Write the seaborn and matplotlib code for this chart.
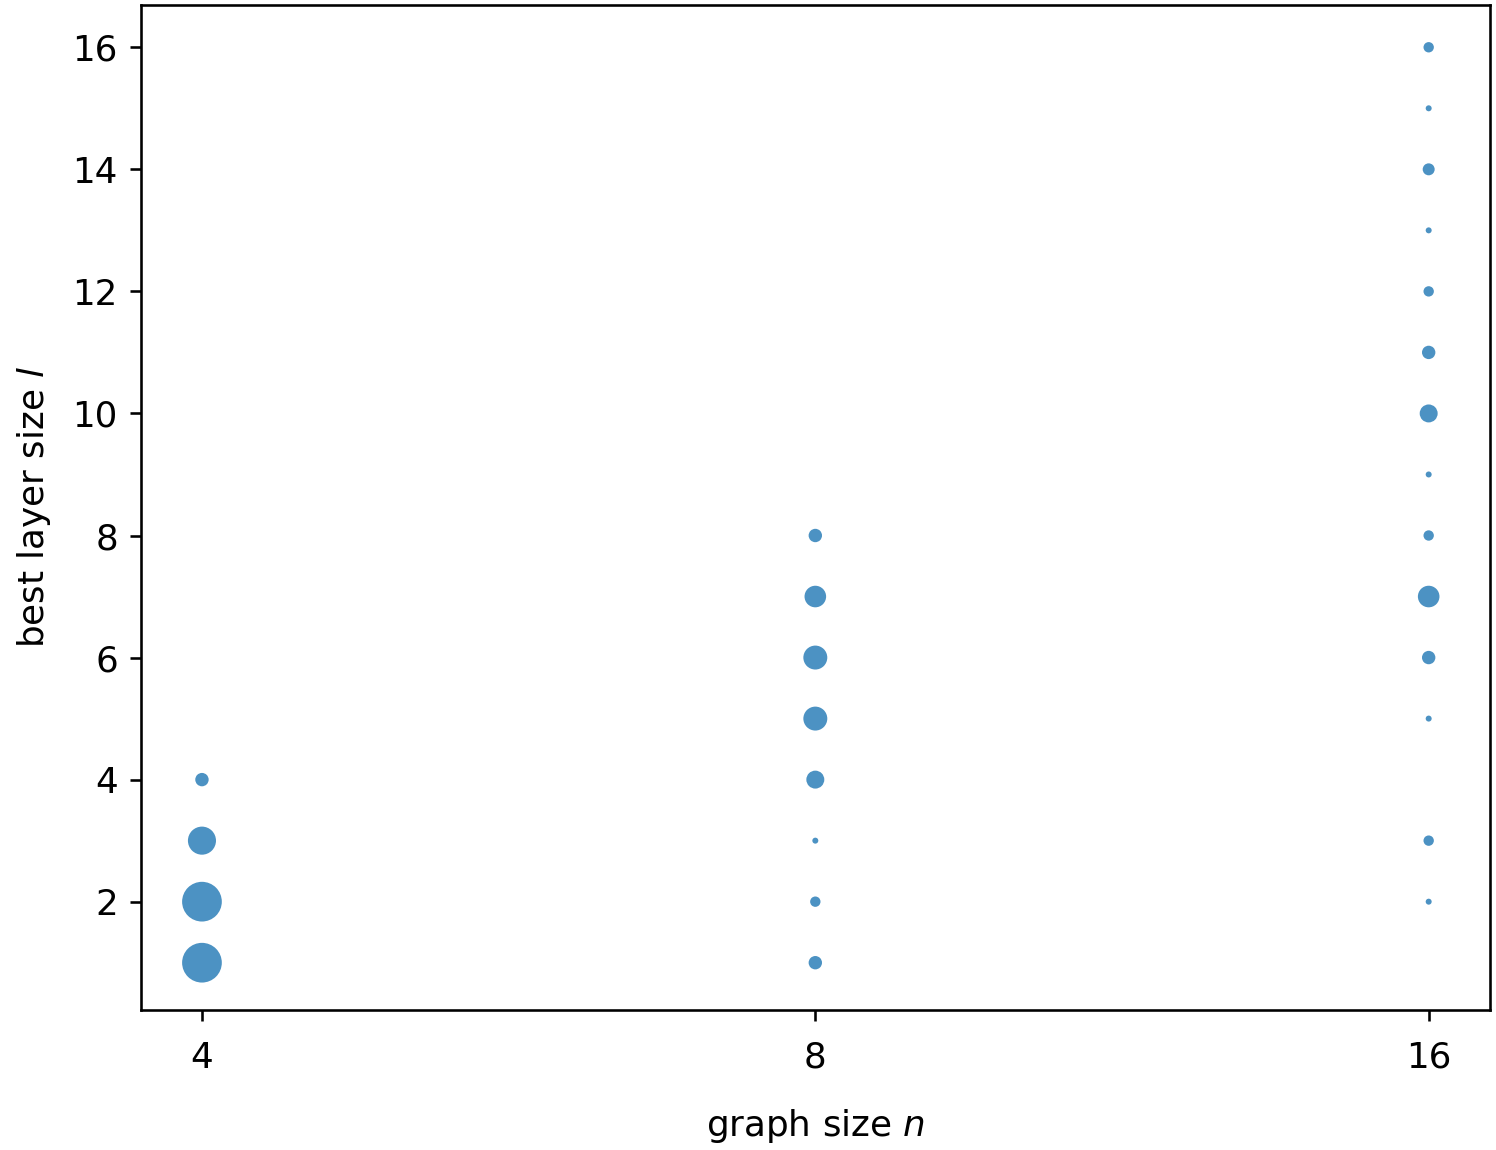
import matplotlib
matplotlib.use("Agg")
import matplotlib.pyplot as plt
import numpy as np
import pandas as pd
import seaborn as sns

# graph size categories and best layer size frequencies
graph_sizes = ["4", "8", "16"]
layers_n4 = [1, 2, 3, 4]
counts_n4 = [44, 44, 22, 5]
layers_n8 = [1, 2, 3, 4, 5, 6, 7, 8]
counts_n8 = [5, 3, 1, 9, 16, 16, 13, 5]
layers_n16 = [2, 3, 5, 6, 7, 8, 9, 10, 11, 12, 13, 14, 15, 16]
counts_n16 = [1, 3, 1, 5, 13, 3, 1, 9, 5, 3, 1, 4, 1, 3]

rows = []
for i, (ls, cs) in enumerate([(layers_n4, counts_n4), (layers_n8, counts_n8), (layers_n16, counts_n16)]):
    for l, c in zip(ls, cs):
        rows.append({"pos": i, "layer": l, "count": c})
df = pd.DataFrame(rows)

plt.rcParams["font.size"] = 11
fig = plt.figure(figsize=(6.4, 4.92), dpi=233.75)
ax = fig.add_axes([0.094, 0.122, 0.902, 0.874])
per_count = 3.4
sns.scatterplot(data=df, x="pos", y="layer", size="count",
                sizes=(per_count * 1, per_count * 44), size_norm=(1, 44),
                color="C0", alpha=0.8, edgecolor="none", legend=False, ax=ax)
ax.set_xticks(range(len(graph_sizes)))
ax.set_xticklabels(graph_sizes)
ax.set_xlim(-0.1, 2.1)
ax.set_ylim(0.23, 16.7)
ax.set_yticks([2, 4, 6, 8, 10, 12, 14, 16])
ax.tick_params(axis="x", pad=6)
ax.set_xlabel("graph size $n$", labelpad=10)
ax.set_ylabel("best layer size $l$", labelpad=6)
fig.savefig("out.png", dpi=233.75)
